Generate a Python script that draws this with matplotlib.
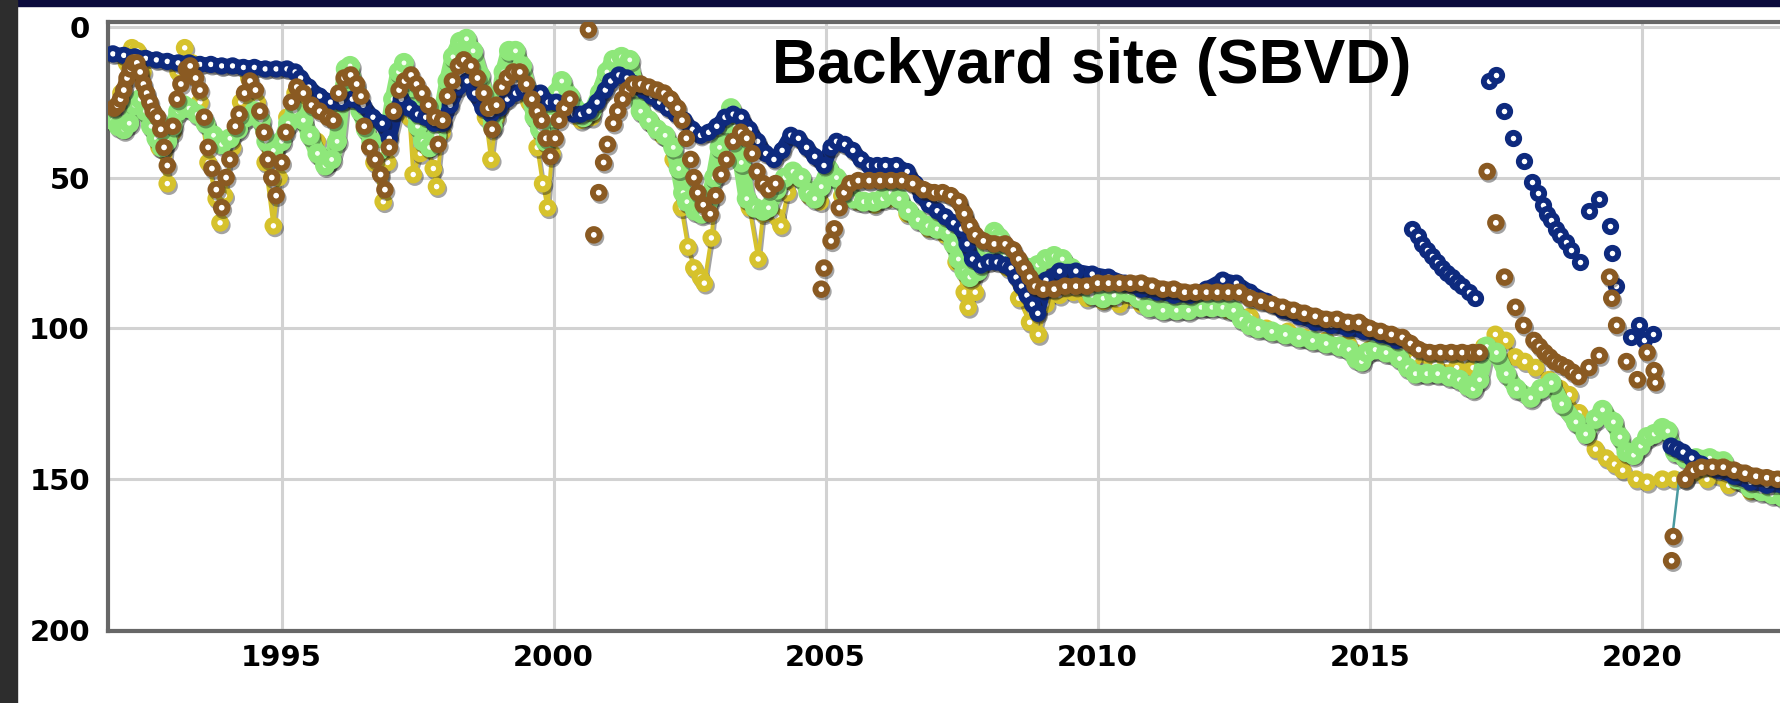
import matplotlib
matplotlib.use("Agg")
import matplotlib.pyplot as plt
import matplotlib.patheffects as pe
import numpy as np
from matplotlib.patches import Rectangle

# Water level (depth below surface) at the backyard well, four series.
# (decimal year, depth); None breaks a connected run.
brown_band = [
    (1991.92, 27), (1991.98, 26), (1992.04, 24), (1992.1, 21), (1992.16, 17), (1992.22, 14),
    (1992.28, 12), (1992.34, 12), (1992.4, 15), (1992.46, 19), (1992.52, 22), (1992.58, 25), (1992.64, 28),
    None,
    (2001.36, 21), (2001.46, 19), (2001.6, 19), (2001.75, 20), (2001.9, 21), (2002.03, 22),
    (2002.15, 24), (2002.28, 27),
    None,
    (2005.34, 55), (2005.45, 52), (2005.6, 51), (2005.8, 51), (2006.0, 51), (2006.2, 51), (2006.4, 51),
    (2006.6, 52), (2006.8, 54), (2007.0, 55), (2007.15, 55), (2007.3, 56), (2007.45, 58), (2007.55, 62),
    (2007.65, 66), (2007.75, 69), (2007.9, 71), (2008.1, 72), (2008.3, 72), (2008.45, 74), (2008.55, 77),
    (2008.65, 80), (2008.75, 83), (2008.85, 86), (2009.0, 87), (2009.2, 87), (2009.4, 86), (2009.6, 86),
    (2009.8, 86), (2010.0, 85), (2010.2, 85), (2010.4, 85), (2010.6, 85), (2010.8, 85), (2011.0, 86),
    (2011.2, 87), (2011.4, 87), (2011.6, 88), (2011.8, 88), (2012.0, 88), (2012.2, 88), (2012.4, 88),
    (2012.6, 88), (2012.8, 90), (2013.0, 91), (2013.2, 92), (2013.4, 93), (2013.6, 94), (2013.8, 95),
    (2014.0, 96), (2014.2, 97), (2014.4, 97), (2014.6, 98), (2014.8, 98), (2015.0, 100), (2015.2, 101),
    (2015.4, 102), (2015.6, 103), (2015.75, 105), (2015.9, 107), (2016.1, 108), (2016.3, 108),
    (2016.5, 108), (2016.7, 108), (2016.9, 108), (2017.02, 108),
    None,
    (2020.8, 150), (2020.95, 147), (2021.1, 146), (2021.3, 146), (2021.5, 146), (2021.7, 147),
    (2021.9, 148), (2022.1, 149), (2022.3, 149.5), (2022.5, 150), (2022.7, 150), (2022.9, 150.5),
]

brown_scatter = [
    (1992.72, 30), (1992.78, 34), (1992.84, 40), (1992.9, 46), (1993.0, 33), (1993.08, 24),
    (1993.15, 19), (1993.25, 14), (1993.32, 13), (1993.42, 17), (1993.5, 21), (1993.58, 30),
    (1993.65, 40), (1993.72, 47), (1993.8, 54), (1993.9, 60), (1993.98, 50), (1994.05, 44),
    (1994.15, 33), (1994.22, 29), (1994.32, 22), (1994.42, 18), (1994.52, 21), (1994.6, 28),
    (1994.68, 35), (1994.75, 44), (1994.82, 50), (1994.9, 56), (1995.0, 45), (1995.08, 35),
    (1995.18, 25), (1995.28, 20), (1995.4, 22), (1995.55, 26), (1995.7, 28), (1995.85, 30),
    (1995.95, 31), (1996.05, 22), (1996.15, 17), (1996.27, 16), (1996.38, 19), (1996.46, 23),
    (1996.52, 33), (1996.62, 40), (1996.72, 44), (1996.82, 49), (1996.9, 54), (1996.98, 40),
    (1997.06, 28), (1997.16, 21), (1997.26, 18), (1997.38, 16), (1997.48, 19), (1997.58, 22),
    (1997.7, 26), (1997.82, 30), (1997.88, 39), (1997.96, 31), (1998.05, 23), (1998.14, 18),
    (1998.25, 13), (1998.35, 11), (1998.48, 13), (1998.6, 17), (1998.72, 22), (1998.8, 27),
    (1998.87, 34), (1998.95, 26), (1999.05, 20), (1999.15, 17), (1999.26, 15), (1999.38, 15),
    (1999.5, 19), (1999.6, 24), (1999.7, 28), (1999.78, 31), (1999.86, 37), (1999.94, 43),
    (2000.03, 37), (2000.1, 31), (2000.2, 27), (2000.3, 24),
    (2000.64, 1),
    (2000.74, 69), (2000.83, 55), (2000.92, 45), (2000.99, 39), (2001.1, 32), (2001.18, 28), (2001.27, 24),
    (2002.36, 31), (2002.44, 37), (2002.52, 44), (2002.58, 50), (2002.65, 55), (2002.75, 59),
    (2002.88, 62), (2002.98, 56), (2003.08, 49), (2003.18, 44), (2003.3, 38), (2003.44, 35),
    (2003.55, 37), (2003.65, 42), (2003.74, 48), (2003.85, 52), (2003.95, 54), (2004.08, 52),
    (2004.92, 87), (2004.97, 80), (2005.1, 71), (2005.16, 67), (2005.25, 60),
    (2017.16, 48), (2017.32, 65), (2017.48, 83), (2017.68, 93), (2017.83, 99), (2018.02, 104),
    (2018.12, 106), (2018.22, 108), (2018.31, 109.5), (2018.4, 111), (2018.51, 112), (2018.62, 113),
    (2018.73, 114.5), (2018.84, 116), (2019.03, 113), (2019.22, 109),
    (2019.41, 83), (2019.45, 90), (2019.54, 99), (2019.72, 111), (2019.92, 117), (2020.1, 108),
    (2020.23, 114), (2020.25, 118),
    (2020.58, 169), (2020.55, 177),
]

blue_band = [
    (1991.9, 9), (1992.1, 9.5), (1992.3, 10), (1992.5, 10.5), (1992.7, 11), (1992.9, 11.5),
    (1993.1, 12), (1993.3, 12), (1993.5, 12.5), (1993.7, 12.5), (1993.9, 13), (1994.1, 13),
    (1994.3, 13.5), (1994.5, 13.5), (1994.7, 14), (1994.9, 14), (1995.1, 14), (1995.25, 15),
    (1995.35, 17), (1995.5, 20), (1995.7, 23), (1995.9, 25), (1996.1, 25), (1996.3, 24),
    (1996.5, 26), (1996.68, 30), (1996.85, 32), (1996.98, 37), (1997.1, 28), (1997.2, 24),
    (1997.35, 27), (1997.5, 29), (1997.65, 30), (1997.8, 32), (1997.97, 32), (1998.1, 26),
    (1998.25, 20), (1998.41, 18), (1998.55, 22), (1998.7, 27), (1998.85, 29), (1999.0, 27),
    (1999.15, 24), (1999.3, 22), (1999.45, 21), (1999.6, 22), (1999.76, 22), (1999.9, 25),
    (2000.05, 25), (2000.2, 27), (2000.37, 29), (2000.5, 29), (2000.65, 28), (2000.8, 25),
    (2000.95, 21), (2001.05, 18), (2001.2, 16), (2001.35, 17), (2001.5, 19), (2001.65, 21),
    (2001.8, 23), (2001.95, 25), (2002.1, 27), (2002.25, 29), (2002.4, 31), (2002.55, 34),
    (2002.7, 36), (2002.85, 35), (2003.0, 33), (2003.15, 30), (2003.3, 29), (2003.45, 30),
    (2003.6, 34), (2003.75, 38), (2003.9, 42), (2004.05, 44), (2004.2, 41), (2004.36, 36),
    (2004.5, 37), (2004.65, 40), (2004.8, 43), (2004.97, 46), (2005.1, 40), (2005.2, 38),
    (2005.35, 39), (2005.5, 41), (2005.65, 44), (2005.8, 46), (2005.95, 46), (2006.1, 46),
    (2006.3, 46), (2006.5, 48), (2006.65, 52), (2006.76, 56), (2006.9, 59), (2007.05, 61),
    (2007.2, 63), (2007.35, 65), (2007.5, 67), (2007.6, 72), (2007.7, 77), (2007.85, 79),
    (2008.0, 78), (2008.15, 78), (2008.3, 79), (2008.41, 80), (2008.5, 83), (2008.6, 86),
    (2008.7, 89), (2008.8, 92), (2008.9, 95), (2009.05, 84), (2009.3, 81), (2009.6, 81),
    (2009.9, 82), (2010.2, 83), (2010.5, 85), (2010.8, 87), (2011.1, 88), (2011.4, 89),
    (2011.7, 89), (2012.0, 87), (2012.3, 84), (2012.55, 85), (2012.8, 88), (2013.1, 91),
    (2013.4, 94), (2013.7, 96), (2014.0, 98), (2014.3, 99), (2014.6, 100), (2014.9, 101),
    (2015.2, 102), (2015.5, 104),
    None,
    (2020.54, 139), (2020.65, 140), (2020.76, 141), (2020.92, 143), (2021.1, 145), (2021.4, 147),
    (2021.7, 149), (2022.0, 151), (2022.3, 152), (2022.6, 152), (2022.9, 153),
]

blue_scatter = [
    (2015.78, 67), (2015.88, 69.5), (2015.96, 72), (2016.06, 74), (2016.15, 76), (2016.24, 78),
    (2016.33, 80), (2016.43, 81.5), (2016.52, 83), (2016.61, 84.5), (2016.7, 86), (2016.82, 88),
    (2016.94, 90),
    (2017.2, 18), (2017.33, 16), (2017.47, 28), (2017.64, 37), (2017.83, 44.5), (2017.99, 51.5),
    (2018.1, 55), (2018.18, 59), (2018.26, 62), (2018.34, 64), (2018.42, 67), (2018.49, 69),
    (2018.6, 71.5), (2018.71, 74), (2018.87, 78),
    (2019.03, 61), (2019.22, 57), (2019.41, 66), (2019.45, 75), (2019.52, 86),
    (2019.8, 103), (2019.95, 99), (2020.05, 104), (2020.2, 102),
]

green_band = [
    (1991.9, 31), (1992.0, 33), (1992.1, 34), (1992.2, 32), (1992.3, 26), (1992.4, 24), (1992.5, 28),
    (1992.6, 33), (1992.7, 37), (1992.8, 40), (1992.9, 38), (1993.0, 33), (1993.1, 28), (1993.2, 26),
    (1993.3, 27), (1993.45, 29), (1993.6, 32), (1993.75, 36), (1993.9, 39), (1994.05, 37), (1994.2, 34),
    (1994.35, 30), (1994.5, 28), (1994.62, 31), (1994.72, 38), (1994.85, 41), (1995.0, 38), (1995.12, 32),
    (1995.25, 28), (1995.4, 31), (1995.52, 36), (1995.66, 42), (1995.8, 46), (1995.92, 44), (1996.02, 38),
    (1996.1, 24), (1996.18, 14), (1996.26, 13), (1996.35, 20), (1996.45, 28), (1996.55, 34), (1996.65, 38),
    (1996.8, 41), (1996.95, 36), (1997.05, 24), (1997.15, 15), (1997.25, 12), (1997.38, 20), (1997.5, 33),
    (1997.6, 38), (1997.72, 40), (1997.85, 36), (1997.95, 28), (1998.05, 18), (1998.15, 10), (1998.28, 5),
    (1998.4, 4), (1998.52, 8), (1998.65, 16), (1998.78, 25), (1998.88, 33), (1998.98, 26), (1999.08, 15),
    (1999.18, 8), (1999.3, 8), (1999.42, 13), (1999.55, 22), (1999.65, 30), (1999.75, 34), (1999.85, 38),
    (1999.95, 30), (2000.05, 22), (2000.15, 18), (2000.3, 23), (2000.45, 28), (2000.55, 30), (2000.7, 28),
    (2000.85, 22), (2000.98, 15), (2001.1, 11), (2001.25, 10), (2001.4, 11), (2001.5, 20), (2001.6, 28),
    (2001.75, 31), (2001.9, 34), (2002.05, 36), (2002.2, 40), (2002.3, 47), (2002.38, 55), (2002.45, 58),
    (2002.6, 61), (2002.72, 62), (2002.85, 58), (2002.95, 50), (2003.05, 40), (2003.15, 32), (2003.26, 27),
    (2003.35, 33), (2003.45, 45), (2003.55, 57), (2003.7, 60), (2003.85, 61), (2003.95, 60), (2004.1, 54),
    (2004.25, 50), (2004.4, 48), (2004.55, 50), (2004.68, 55), (2004.8, 57), (2004.92, 53), (2005.05, 47),
    (2005.2, 50), (2005.35, 55), (2005.52, 57), (2005.7, 58), (2005.89, 58), (2006.05, 57), (2006.2, 55),
    (2006.35, 57), (2006.52, 61), (2006.7, 64), (2006.88, 66), (2007.05, 67), (2007.25, 68), (2007.35, 72),
    (2007.44, 77), (2007.55, 81), (2007.65, 83), (2007.8, 81), (2007.95, 74), (2008.1, 68), (2008.2, 70),
    (2008.3, 76), (2008.45, 78), (2008.6, 79), (2008.75, 80), (2008.9, 79), (2009.05, 77), (2009.2, 76),
    (2009.35, 77), (2009.52, 80), (2009.7, 85), (2009.9, 89), (2010.1, 90), (2010.3, 89), (2010.57, 88),
    (2010.75, 90), (2010.94, 93), (2011.2, 94), (2011.45, 94), (2011.67, 94), (2011.9, 93), (2012.1, 93),
    (2012.3, 93), (2012.5, 94), (2012.65, 97), (2012.8, 99), (2012.95, 100), (2013.2, 101), (2013.45, 102),
    (2013.7, 103), (2013.95, 104), (2014.2, 105), (2014.45, 106), (2014.62, 107), (2014.75, 110),
    (2014.85, 111), (2014.95, 108), (2015.1, 107), (2015.3, 108), (2015.55, 110), (2015.7, 113),
    (2015.84, 115), (2016.05, 115), (2016.25, 115), (2016.47, 116), (2016.65, 117), (2016.8, 119),
    (2016.9, 120), (2017.02, 117), (2017.15, 106), (2017.33, 108), (2017.51, 115), (2017.7, 120),
    (2017.96, 123), (2018.15, 120), (2018.34, 118), (2018.53, 125), (2018.79, 131), (2018.97, 135),
    (2019.15, 130), (2019.28, 127), (2019.48, 131), (2019.6, 136), (2019.72, 141), (2019.85, 142),
    (2019.98, 139), (2020.1, 136), (2020.23, 135), (2020.38, 133), (2020.48, 134), (2020.61, 141),
    (2020.8, 143), (2021.0, 143), (2021.25, 143), (2021.5, 144), (2021.75, 150), (2022.0, 153),
    (2022.2, 154), (2022.4, 155), (2022.6, 156), (2022.9, 156),
]

yellow_line = [
    (1991.9, 27), (1992.05, 22), (1992.15, 12), (1992.25, 7), (1992.35, 8), (1992.45, 15), (1992.6, 28),
    (1992.75, 40), (1992.9, 52), (1993.0, 35), (1993.1, 15), (1993.22, 7), (1993.35, 12), (1993.5, 25),
    (1993.65, 45), (1993.8, 57), (1993.87, 65), (1993.95, 56), (1994.1, 40), (1994.25, 25), (1994.4, 17),
    (1994.55, 25), (1994.7, 45), (1994.85, 66), (1994.95, 50), (1995.1, 30), (1995.25, 22), (1995.45, 27),
    (1995.65, 38), (1995.85, 45), (1996.0, 38), (1996.15, 20), (1996.3, 17), (1996.5, 30), (1996.7, 45),
    (1996.87, 58), (1996.95, 45), (1997.1, 25), (1997.25, 16), (1997.35, 30), (1997.42, 49), (1997.55, 42),
    (1997.68, 40), (1997.79, 47), (1997.85, 53), (1997.95, 35), (1998.1, 18), (1998.3, 9), (1998.45, 9),
    (1998.6, 18), (1998.75, 30), (1998.85, 44), (1998.95, 30), (1999.1, 18), (1999.25, 12), (1999.4, 14),
    (1999.55, 25), (1999.7, 40), (1999.8, 52), (1999.89, 60), (1999.97, 42), (2000.1, 25), (2000.3, 27),
    (2000.5, 31), (2000.7, 30), (2000.9, 20), (2001.05, 14), (2001.25, 13), (2001.45, 16), (2001.6, 25),
    (2001.8, 32), (2002.0, 36), (2002.2, 44), (2002.35, 60), (2002.47, 73), (2002.58, 80), (2002.7, 83),
    (2002.77, 85), (2002.9, 70), (2003.05, 45), (2003.2, 30), (2003.3, 28), (2003.45, 45), (2003.6, 60),
    (2003.76, 77), (2003.85, 62), (2003.95, 60), (2004.1, 63), (2004.18, 66), (2004.3, 55), (2004.5, 50),
    (2004.7, 56), (2004.9, 58), (2005.1, 50), (2005.3, 56), (2005.6, 58), (2005.9, 59), (2006.2, 57),
    (2006.5, 62), (2006.9, 67), (2007.2, 69), (2007.4, 78), (2007.55, 88), (2007.62, 93), (2007.75, 88),
    (2007.95, 77), (2008.15, 72), (2008.35, 80), (2008.55, 90), (2008.75, 98), (2008.91, 102), (2009.05, 92),
    (2009.3, 89), (2009.55, 88), (2009.8, 90), (2010.1, 91), (2010.4, 92), (2010.8, 92), (2011.2, 93),
    (2011.6, 93), (2012.0, 93), (2012.4, 94), (2012.8, 96), (2013.1, 100), (2013.5, 101), (2013.8, 103),
    (2014.2, 104), (2014.6, 105), (2015.0, 107), (2015.4, 108), (2015.8, 110), (2016.2, 112), (2016.6, 113),
    (2016.9, 113), (2017.1, 106), (2017.31, 102), (2017.5, 104), (2017.68, 109.5), (2017.85, 111),
    (2018.05, 113), (2018.3, 117), (2018.5, 120), (2018.67, 122), (2018.85, 128), (2019.0, 135),
    (2019.15, 140), (2019.35, 143), (2019.5, 145), (2019.65, 147), (2019.9, 150), (2020.1, 151),
    (2020.38, 150), (2020.6, 150), (2020.8, 150), (2021.2, 150), (2021.6, 152), (2022.0, 154),
    (2022.5, 155), (2022.9, 155),
]

teal_line = [(2020.7, 148), (2020.57, 168)]

year_ticks = [1995, 2000, 2005, 2010, 2015, 2020]
depth_ticks = [0, 50, 100, 150, 200]
title = "Backyard site (SBVD)"

BROWN = "#8a5a22"
NAVY = "#0e2a7e"
GREEN = "#8ee77a"
YELLOW = "#d6c22c"
TEAL = "#4a9aa0"


def to_xy(points):
    arr = np.array([(np.nan, np.nan) if p is None else p for p in points], dtype=float)
    return arr[:, 0], arr[:, 1]


shadow = [pe.SimpleLineShadow(offset=(1.2, -1.8), shadow_color="#1a1a1a", alpha=0.4), pe.Normal()]
band_style = dict(solid_capstyle="round", solid_joinstyle="round", path_effects=shadow)

W, H = 1780, 703
fig = plt.figure(figsize=(W / 100, H / 100), dpi=100)
fig.patch.set_facecolor("white")

ax = fig.add_axes([108 / W, 1 - 631 / H, (1800 - 108) / W, (631 - 22) / H])
ax.set_xlim(1991.81, 2022.91)
ax.set_ylim(200.3, -1.56)

# bottom to top: yellow, green, navy, brown
x, y = to_xy(yellow_line)
ax.plot(x, y, color=YELLOW, lw=2.8, marker="o", ms=8.4, mew=4.4,
        mfc="white", mec=YELLOW, path_effects=shadow, zorder=2)

x, y = to_xy(green_band)
ax.plot(x, y, color=GREEN, lw=12, marker="o", ms=9, mew=5.4,
        mfc="#f6fff2", mec=GREEN, zorder=3, **band_style)

x, y = to_xy(blue_band)
ax.plot(x, y, color=NAVY, lw=10.5, marker="o", ms=8.2, mew=4.2,
        mfc="white", mec=NAVY, zorder=4, **band_style)
x, y = to_xy(blue_scatter)
ax.plot(x, y, ls="none", marker="o", ms=8.2, mew=4.2, mfc="white", mec=NAVY, zorder=4)

x, y = to_xy(teal_line)
ax.plot(x, y, color=TEAL, lw=1.8, zorder=4.5)

x, y = to_xy(brown_band)
ax.plot(x, y, color=BROWN, lw=11, marker="o", ms=8.4, mew=4.2,
        mfc="white", mec=BROWN, zorder=5, **band_style)
x, y = to_xy(brown_scatter)
ax.plot(x, y, ls="none", marker="o", ms=8.4, mew=4.2, mfc="white", mec=BROWN,
        path_effects=shadow, zorder=5)

ax.set_xticks(year_ticks)
ax.set_yticks(depth_ticks)
ax.set_xticklabels([str(v) for v in year_ticks])
ax.set_yticklabels([str(v) for v in depth_ticks])
ax.tick_params(axis="both", length=0, labelsize=21)
ax.tick_params(axis="x", pad=9)
ax.tick_params(axis="y", pad=13)
for lab in ax.get_xticklabels() + ax.get_yticklabels():
    lab.set_fontweight("bold")
    lab.set_family("DejaVu Sans")

ax.grid(True, color="#d2d2d2", lw=2.2)
ax.set_axisbelow(True)
for side in ("left", "bottom", "top"):
    ax.spines[side].set_color("#676767")
    ax.spines[side].set_linewidth(3)
ax.spines["right"].set_visible(False)

fig.text(772 / W, 1 - 83 / H, title, ha="left", va="baseline",
         fontsize=45, fontweight="bold", family="Liberation Sans", zorder=10)

# dark frame edges
fig.add_artist(Rectangle((0, 1 - 6 / H), 1, 6 / H, transform=fig.transFigure,
                         color="#0b0b3d", zorder=20))
fig.add_artist(Rectangle((0, 0), 17 / W, 1, transform=fig.transFigure,
                         color="#2d2d2d", zorder=20))

fig.savefig("out.png", dpi=100, facecolor=fig.get_facecolor())
